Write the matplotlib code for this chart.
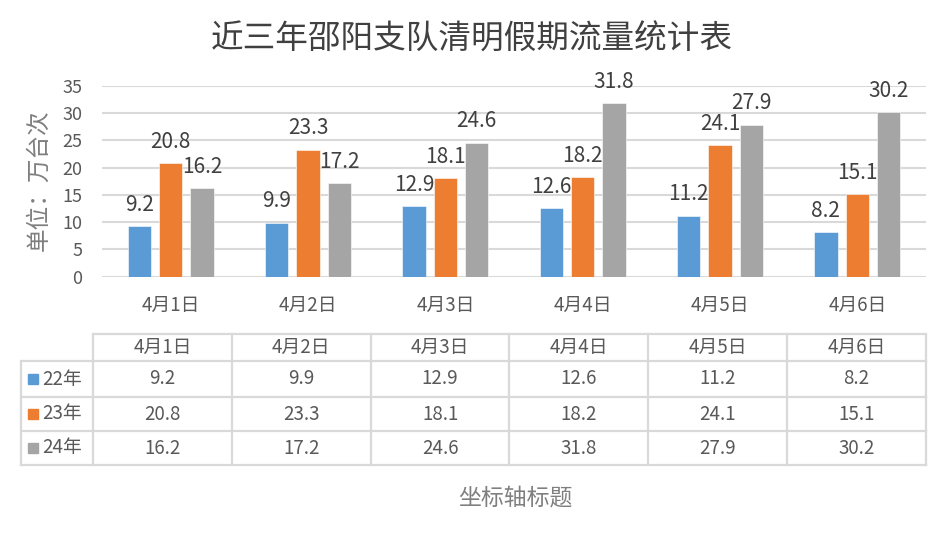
import numpy as np
import matplotlib
matplotlib.use('Agg')
import matplotlib.pyplot as plt
from matplotlib.patches import Rectangle

plt.rcParams['font.family'] = ['Noto Sans CJK SC', 'DejaVu Sans']

# data
days = ['4月1日', '4月2日', '4月3日', '4月4日', '4月5日', '4月6日']
series = ['22年', '23年', '24年']
y22 = [9.2, 9.9, 12.9, 12.6, 11.2, 8.2]
y23 = [20.8, 23.3, 18.1, 18.2, 24.1, 15.1]
y24 = [16.2, 17.2, 24.6, 31.8, 27.9, 30.2]
colors = ['#5B9BD5', '#ED7D31', '#A5A5A5']

W, H = 949, 539
fig = plt.figure(figsize=(W / 100, H / 100), dpi=100)

# chart area (pixel box: x 102-926, y 86-276.5)
ax = fig.add_axes([102 / W, 1 - 276.5 / H, 824 / W, 190.5 / H])
x = np.arange(len(days))
step, bw = 0.229, 0.17
for j, vals in enumerate([y22, y23, y24]):
    bars = ax.bar(x + (j - 1) * step, vals, width=bw, color=colors[j],
                  edgecolor='white', linewidth=0.4, zorder=3)
    for b, v in zip(bars, vals):
        ax.annotate(f'{v}', (b.get_x() + b.get_width() / 2, v),
                    xytext=(0, 11), textcoords='offset points',
                    ha='center', va='baseline', fontsize=15, color='#404040')

ax.set_xlim(-0.5, len(days) - 0.5)
ax.set_ylim(0, 35)
ax.set_yticks(range(0, 36, 5))
ax.set_xticks(x)
ax.set_xticklabels(days)
ax.tick_params(axis='both', length=0, colors='#595959', labelsize=13)
ax.tick_params(axis='x', labelsize=13.5, pad=13)
ax.tick_params(axis='y', pad=14)
ax.grid(axis='y', color='#D9D9D9', linewidth=1.5, zorder=0)
ax.set_axisbelow(True)
for s in ax.spines.values():
    s.set_visible(False)

# overlay in pixel coordinates for title, labels and data table
ov = fig.add_axes([0, 0, 1, 1], zorder=-1)
ov.set_xlim(0, W)
ov.set_ylim(H, 0)
ov.axis('off')

ov.text(472, 40, '近三年邵阳支队清明假期流量统计表', ha='center', va='center',
        fontsize=23.5, color='#404040')
ov.text(39, 180, '单位：万台次', rotation=90, ha='center', va='center',
        fontsize=17, color='#7F7F7F')
ov.text(515, 498, '坐标轴标题', ha='center', va='center',
        fontsize=16.5, color='#7F7F7F')

# data table
grid_c = '#D9D9D9'
lw = 1.6
tl, tr = 93, 926
col_w = (tr - tl) / len(days)
row_y = [334, 361, 397, 431, 465]
lc = 21
tfs = 13.5
# horizontal lines
ov.plot([tl, tr], [row_y[0], row_y[0]], color=grid_c, lw=lw)
for yy in row_y[1:]:
    ov.plot([lc, tr], [yy, yy], color=grid_c, lw=lw)
# vertical lines
ov.plot([lc, lc], [row_y[1], row_y[-1]], color=grid_c, lw=lw)
for k in range(len(days) + 1):
    xx = tl + k * col_w
    ov.plot([xx, xx], [row_y[0], row_y[-1]], color=grid_c, lw=lw)

for k, d in enumerate(days):
    ov.text(tl + (k + 0.5) * col_w, (row_y[0] + row_y[1]) / 2, d,
            ha='center', va='center', fontsize=tfs, color='#595959')

for r, (name, vals) in enumerate(zip(series, [y22, y23, y24])):
    yc = (row_y[r + 1] + row_y[r + 2]) / 2
    ov.add_patch(Rectangle((28, yc - 5), 10, 10, color=colors[r]))
    ov.text(42, yc, name, ha='left', va='center', fontsize=tfs, color='#595959')
    for k, v in enumerate(vals):
        ov.text(tl + (k + 0.5) * col_w, yc, f'{v}', ha='center', va='center',
                fontsize=tfs, color='#595959')

fig.savefig('out.png', dpi=100)
